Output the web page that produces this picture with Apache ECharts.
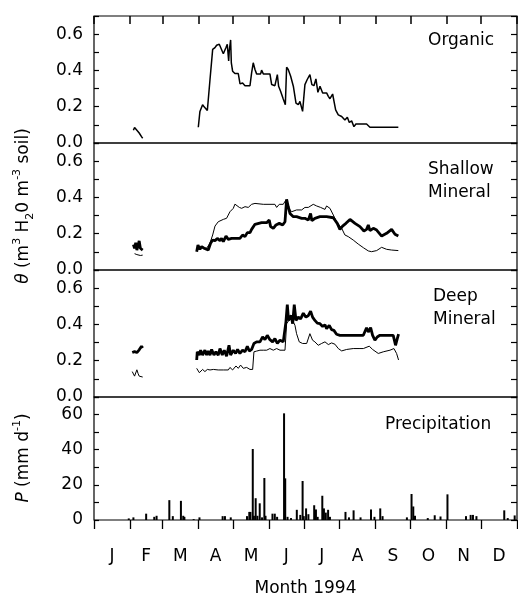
<!DOCTYPE html>
<html>
<head>
<meta charset="utf-8">
<script src="https://cdn.jsdelivr.net/npm/echarts@6/dist/echarts.min.js"></script>
<style>html,body{margin:0;padding:0;background:#fff}#c{width:518px;height:598px}</style>
</head>
<body>
<div id="c"></div>
<script>
// ---- Data (day of year 1994) ----
const monthLetters = ['J','F','M','A','M','J','J','A','S','O','N','D'];
const monthStarts = [0,31,59,90,120,151,181,212,243,273,304,334,365];

// Organic layer soil water content
const organicFebDays = [34,35,37,39,41,42];
const organicFebVals = [0.07,0.085,0.07,0.055,0.035,0.026];
const organicDays = [90,91.4,93.7,95.2,96.6,97.8,100.1,102.4,104.4,105.8,108.1,109.3,111.6,113.9,115,116.2,116.7,117.9,118.5,119.6,121.6,124.5,126,128.2,130.3,134.6,136,137.4,138.9,140.3,143.8,144.6,146.1,151.8,153.3,156.1,158.2,159.3,161,163.3,165.1,166.2,167.6,169.7,172,174.3,176.3,177.7,180,182,184,186.3,188,189.8,191.5,193.2,195,197.3,200.7,202.2,203.6,205.9,207,208.5,210.8,213.7,216.5,218.6,220.3,222.3,224.3,226,231,235.2,238.1,246.7,262.6];
const organicVals = [0.087,0.174,0.211,0.198,0.205,0.179,0.35,0.516,0.526,0.539,0.544,0.535,0.492,0.526,0.544,0.452,0.507,0.568,0.442,0.396,0.383,0.383,0.326,0.331,0.316,0.316,0.387,0.442,0.405,0.381,0.381,0.402,0.381,0.381,0.322,0.316,0.377,0.313,0.285,0.242,0.211,0.418,0.405,0.368,0.313,0.22,0.211,0.229,0.174,0.322,0.35,0.377,0.322,0.316,0.353,0.279,0.313,0.276,0.276,0.257,0.244,0.27,0.272,0.183,0.155,0.146,0.127,0.142,0.113,0.122,0.09,0.105,0.105,0.105,0.087,0.087,0.087];

// Shallow mineral: thin and thick lines
const shallowThinFebDays = [35,37,40,42];
const shallowThinFebVals = [0.09,0.085,0.08,0.082];
const shallowThickFebDays = [34,35,36,37,38,39,40,41,42];
const shallowThickFebVals = [0.14,0.12,0.15,0.11,0.12,0.16,0.12,0.12,0.11];
const shallowThinDays = [88.6,91.4,97.2,100,102.4,104.4,107.2,111.6,114.4,117.3,120.2,121.6,123,125.4,127.4,130.3,133.1,136,138.9,146.1,156.1,157.6,159.9,163.3,165.6,167.6,170.5,174.8,179.2,182,184.9,189.2,192.1,195.5,199.3,200.7,203.6,206.5,209.3,213.7,216.5,219.4,223.7,228,232.4,236.7,239.5,243.9,248.2,252.5,256.8,262.6];
const shallowThinVals = [0.11,0.125,0.12,0.147,0.193,0.242,0.266,0.279,0.285,0.321,0.34,0.363,0.358,0.345,0.34,0.349,0.345,0.362,0.367,0.362,0.362,0.345,0.362,0.362,0.386,0.345,0.321,0.331,0.331,0.345,0.345,0.362,0.353,0.345,0.334,0.353,0.34,0.303,0.266,0.23,0.193,0.184,0.165,0.143,0.123,0.105,0.101,0.107,0.125,0.114,0.11,0.107];
const shallowThickDays = [88.6,89.7,91.4,92.9,94.9,96.6,98.6,100.6,102.4,104.4,106.4,108.7,110.1,111.6,113.9,115.9,118.7,123,125.9,128.2,130.3,132.3,134.6,136,138.9,140.3,144.6,149,151.2,152.4,154.7,157,159.9,162.8,164.8,166.2,167.6,169.1,172,174.8,179.2,182,184.9,186.9,188,190.6,195,200.7,206.5,209.9,212.2,214.5,217.4,220.9,225.2,229.5,232.9,235.2,236.7,238.1,241,243.9,248.2,252.5,256.8,259.7,262.6];
const shallowThickVals = [0.101,0.138,0.114,0.129,0.12,0.125,0.11,0.147,0.165,0.162,0.174,0.162,0.174,0.156,0.187,0.169,0.174,0.174,0.174,0.193,0.184,0.206,0.206,0.224,0.252,0.261,0.261,0.261,0.275,0.239,0.23,0.248,0.257,0.248,0.266,0.389,0.349,0.312,0.294,0.294,0.285,0.285,0.275,0.312,0.272,0.285,0.294,0.294,0.288,0.257,0.224,0.242,0.257,0.279,0.257,0.239,0.215,0.224,0.248,0.217,0.23,0.22,0.187,0.202,0.224,0.197,0.187];

// Deep mineral: thin and thick lines
const deepThinFebDays = [33,35,37,38,39,42];
const deepThinFebVals = [0.14,0.115,0.15,0.13,0.115,0.11];
const deepThickFebDays = [33,34,35,36,37,38,39,40,41,42,42.5];
const deepThickFebVals = [0.245,0.24,0.25,0.24,0.245,0.235,0.26,0.25,0.28,0.27,0.285];
const deepThinDays = [88.6,90.9,93.7,95.7,97.8,100.1,103,107.2,111.6,115.9,117.3,119.6,122.5,124.5,126.5,128.8,131.7,134.6,136.9,138,140.3,143.2,146.1,149,151.8,154.7,157.6,160.5,164.8,166.2,169.1,171.4,173.4,174.8,177.1,180,183.5,186.3,188.6,190.6,193.5,196.4,199.3,202.2,205,207.9,210.8,213.7,218,223.7,229.5,232.4,237.5,240.4,245.3,249.6,255.4,258.8,261.1,262.8];
const deepThinVals = [0.158,0.134,0.152,0.14,0.152,0.149,0.152,0.149,0.149,0.149,0.163,0.149,0.171,0.158,0.176,0.158,0.163,0.152,0.152,0.249,0.253,0.258,0.258,0.258,0.267,0.258,0.267,0.258,0.258,0.404,0.431,0.422,0.395,0.349,0.304,0.295,0.295,0.349,0.313,0.304,0.285,0.295,0.304,0.289,0.298,0.291,0.267,0.254,0.262,0.267,0.267,0.267,0.28,0.262,0.24,0.249,0.258,0.267,0.24,0.204];
const deepThickDays = [88.6,89.1,90.9,92,93.7,95.7,97.2,98.6,100.1,101.5,103.5,105.2,107.2,108.7,110.7,112.4,114.4,116.5,117.9,120.2,122.2,123.9,125.9,128.2,130.3,132.3,134,136,138,140.3,143.2,145.5,147.5,149.5,151.8,154.1,156.1,158.2,160.5,163.3,164.8,165.6,166.8,167.9,169.1,170.2,171.4,172.8,174.3,176.3,178.3,180.6,182.9,184.9,186.9,188.6,190.6,192.7,195,197.3,199.3,200.7,203,205,207,209.3,212.2,216.5,220.9,226.6,232.4,235.2,236.7,238.7,240.4,242.4,244.4,246.7,252.5,258.2,260.2,261.7,262.8];
const deepThickVals = [0.204,0.249,0.231,0.258,0.231,0.258,0.231,0.254,0.231,0.262,0.231,0.249,0.231,0.267,0.231,0.258,0.225,0.285,0.231,0.258,0.24,0.262,0.24,0.258,0.249,0.28,0.253,0.262,0.295,0.304,0.304,0.331,0.316,0.34,0.316,0.304,0.322,0.295,0.313,0.304,0.313,0.413,0.509,0.422,0.431,0.449,0.404,0.509,0.422,0.44,0.431,0.462,0.44,0.449,0.473,0.44,0.422,0.407,0.404,0.389,0.398,0.377,0.395,0.371,0.367,0.346,0.34,0.34,0.34,0.34,0.34,0.382,0.358,0.382,0.34,0.313,0.331,0.34,0.34,0.34,0.285,0.322,0.346];

// Precipitation (mm per day)
const precipDays = [30,34,45,52,54,65,68,75,77,78,86,91,111,113,118,132,134,135,137,138,139.5,141,143,145,147,148,154,156,158,164,165,167,170,175,178,180,181,183,185,190,191.5,193,197,198.4,200,202,203.6,217,220,224,230,239,242,247,249,270,274,275.5,277,288,294,299,305,321,325,327,330,354,357,363];
const precipVals = [0.9,1.5,3.6,1.8,2.4,11.3,2.2,10.9,2.4,1.8,0.5,1.5,2.2,2.2,1.5,2.2,4.6,4.6,40.4,2.4,12.4,2.4,9.5,1.5,23.9,2.4,3.6,3.6,1.8,60.7,23.7,1.8,1.1,5.8,2.9,22.2,2.2,6.6,3.3,8.4,6,1.8,13.8,6.6,4.2,5.8,1.8,4.6,1.5,5.5,1.5,6,1.8,6.6,2.2,1.5,14.8,7.7,2.4,1.1,2.7,2,14.6,2.2,2.9,2.9,2.2,5.5,1.1,2.6];

// ---- Chart ----
const FONT = 'DejaVu Sans';
const pair = (d, v) => d.map((x, i) => [x, v[i]]);
const L = 94, W = 423, H = 127;
const tops = [16, 143, 270, 397];

const grids = tops.map(t => ({left: L, top: t, width: W, height: H, show: true, borderColor: '#000', borderWidth: 1.2, backgroundColor: 'transparent'}));

const xAxes = tops.map((t, i) => {
  const ax = {type: 'value', gridIndex: i, min: 0, max: 365, splitLine: {show: false},
    axisLine: {show: false, onZero: false}, axisLabel: {show: false}, axisTick: {show: false}};
  if (i === 0) {
    ax.position = 'top';
    ax.axisTick = {show: true, inside: true, length: 8, lineStyle: {color: '#000', width: 1.5}, customValues: monthStarts};
  }
  if (i === 3) {
    ax.position = 'bottom';
    ax.axisTick = {show: true, inside: false, length: 9, lineStyle: {color: '#000', width: 1.3}, customValues: monthStarts};
    ax.axisLabel = {show: true, color: '#000', fontFamily: FONT, fontSize: 17, margin: 28,
      customValues: monthStarts.slice(0, 12).map((s, k) => (s + monthStarts[k + 1]) / 2),
      formatter: v => { const k = monthStarts.findIndex((s, j) => v > s && v < monthStarts[j + 1]); return k >= 0 ? monthLetters[k] : ''; }};
    ax.name = 'Month 1994';
    ax.nameLocation = 'middle';
    ax.nameGap = 60;
    ax.nameTextStyle = {color: '#000', fontFamily: FONT, fontSize: 17};
  }
  return ax;
});

const yAxes = [];
tops.forEach((t, i) => {
  const precip = i === 3;
  const base = {type: 'value', gridIndex: i, min: 0, max: precip ? 70 : 0.7, interval: precip ? 10 : 0.1,
    splitLine: {show: false}, axisLine: {show: false, onZero: false}};
  yAxes.push(Object.assign({}, base, {position: 'left',
    axisTick: {show: true, inside: true, length: 5, lineStyle: {color: '#000', width: 1.2}},
    axisLabel: {show: true, color: '#000', fontFamily: FONT, fontSize: 17, margin: 11,
      formatter: v => precip ? (Math.round(v) % 20 === 0 ? String(Math.round(v)) : '')
                             : (Math.round(v * 10) % 2 === 0 ? v.toFixed(1) : '')}}));
  yAxes.push(Object.assign({}, base, {position: 'right',
    axisTick: {show: true, inside: true, length: 6, lineStyle: {color: '#000', width: 1.2}},
    axisLabel: {show: false}}));
});

const lineS = (xi, yi, data, w) => ({type: 'line', xAxisIndex: xi, yAxisIndex: yi, data, showSymbol: false,
  symbol: 'none', lineStyle: {color: '#000', width: w}, animation: false, z: 3});

const series = [
  lineS(0, 0, pair(organicFebDays, organicFebVals), 1.5),
  lineS(0, 0, pair(organicDays, organicVals), 1.5),
  lineS(1, 2, pair(shallowThinFebDays, shallowThinFebVals), 1),
  lineS(1, 2, pair(shallowThickFebDays, shallowThickFebVals), 2.8),
  lineS(1, 2, pair(shallowThinDays, shallowThinVals), 1),
  lineS(1, 2, pair(shallowThickDays, shallowThickVals), 2.8),
  lineS(2, 4, pair(deepThinFebDays, deepThinFebVals), 1),
  lineS(2, 4, pair(deepThickFebDays, deepThickFebVals), 2.8),
  lineS(2, 4, pair(deepThinDays, deepThinVals), 1),
  lineS(2, 4, pair(deepThickDays, deepThickVals), 2.8),
  {type: 'bar', xAxisIndex: 3, yAxisIndex: 6, data: pair(precipDays, precipVals), barWidth: 2,
    itemStyle: {color: '#000'}, animation: false}
];

const txt = (x, y, text, align) => ({type: 'text', x, y, style: {text, fill: '#000', font: '17px "' + FONT + '"', align: align || 'left', verticalAlign: 'middle'}});

const graphic = [
  txt(428, 41, 'Organic'),
  txt(428, 170, 'Shallow'),
  txt(428, 193, 'Mineral'),
  txt(433, 297, 'Deep'),
  txt(433, 320, 'Mineral'),
  txt(385, 425, 'Precipitation'),
  {type: 'text', x: 24, y: 206, rotation: Math.PI / 2,
    style: {text: '{i|θ} (m{sup|3} H{sub|2}0 m{sup|-3} soil)', align: 'center', verticalAlign: 'middle', fill: '#000',
      fontFamily: FONT, fontSize: 17, lineHeight: 24,
      rich: {i: {fontStyle: 'italic', fontFamily: FONT, fontSize: 17, lineHeight: 24},
             sup: {fontFamily: FONT, fontSize: 11, lineHeight: 24, verticalAlign: 'top'},
             sub: {fontFamily: FONT, fontSize: 11, lineHeight: 24, verticalAlign: 'bottom'}}}},
  {type: 'text', x: 24, y: 458, rotation: Math.PI / 2,
    style: {text: '{i|P} (mm d{sup|-1})', align: 'center', verticalAlign: 'middle', fill: '#000',
      fontFamily: FONT, fontSize: 17, lineHeight: 24,
      rich: {i: {fontStyle: 'italic', fontFamily: FONT, fontSize: 17, lineHeight: 24},
             sup: {fontFamily: FONT, fontSize: 11, lineHeight: 24, verticalAlign: 'top'}}}}
];

const chart = echarts.init(document.getElementById('c'), null, {renderer: 'canvas'});
chart.setOption({
  animation: false,
  backgroundColor: '#fff',
  textStyle: {fontFamily: FONT},
  grid: grids, xAxis: xAxes, yAxis: yAxes, series, graphic
});
</script>
</body>
</html>
